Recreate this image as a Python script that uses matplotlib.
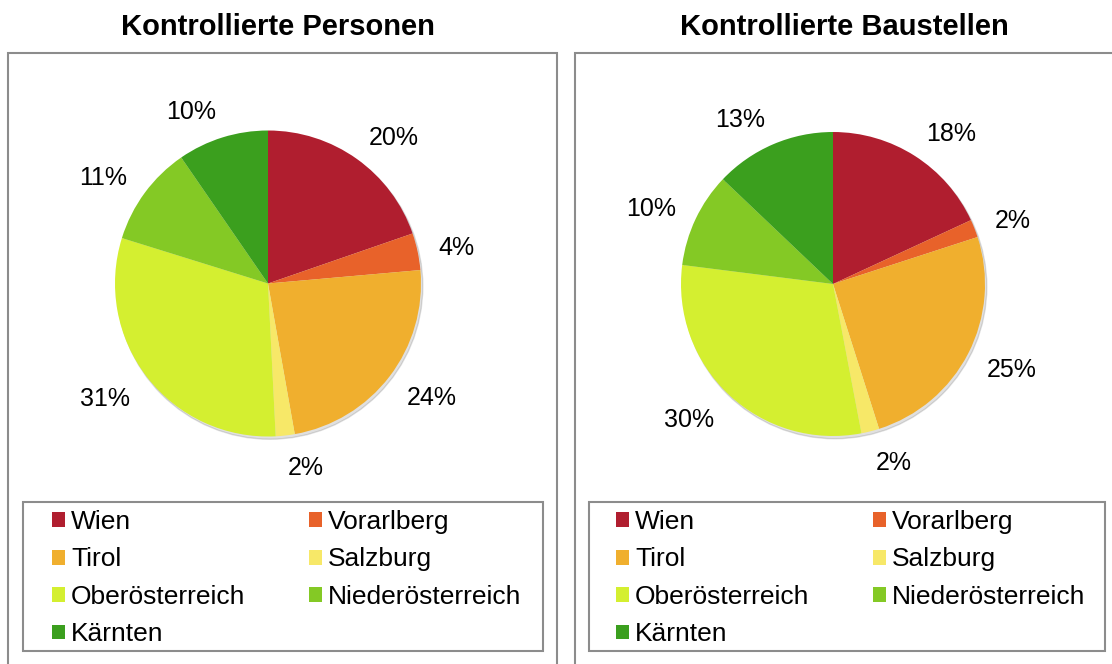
import matplotlib
matplotlib.use('Agg')
import numpy as np
import matplotlib.pyplot as plt
from matplotlib.patches import Rectangle, Patch, Circle

plt.rcParams['font.family'] = ['Liberation Sans', 'DejaVu Sans']

regions = ["Wien", "Vorarlberg", "Tirol", "Salzburg",
           "Oberösterreich", "Niederösterreich", "Kärnten"]
colors = ["#B01E2F", "#E8622A", "#F0AF2E", "#F7E868",
          "#D4EF30", "#84C925", "#3B9F1E"]

# shares in percent
personen = [19.7, 3.9, 23.6, 2.0, 30.6, 10.6, 9.6]
baustellen = [18.1, 1.9, 25.1, 1.9, 30.0, 10.1, 12.9]

titles = ["Kontrollierte Personen", "Kontrollierte Baustellen"]

W, H = 1112, 664
fig = plt.figure(figsize=(W / 100, H / 100), dpi=100)

def fx(px):
    return px / W

def fy(py):
    return (H - py) / H

# panel layout in pixels (from top-left)
panels = [
    dict(box=(8, 53, 557), cx=268, cy=283.5, r=153, title_x=278,
         leg=(23, 502, 543, 651), hx=52),
    dict(box=(575, 53, 1125), cx=833, cy=284, r=152, title_x=844,
         leg=(589, 502, 1105, 651), hx=616),
]

for data, title, p in zip([personen, baustellen], titles, panels):
    x0, y0, x1 = p['box']
    fig.patches.append(Rectangle((fx(x0), fy(H + 20)), fx(x1 - x0), (H + 20 - y0) / H,
                                 transform=fig.transFigure, fill=False,
                                 edgecolor='#8c8c8c', linewidth=1.5))
    fig.text(fx(p['title_x']), fy(35), title, ha='center', va='baseline',
             fontsize=21, fontweight='bold')

    half = 215
    ax = fig.add_axes([fx(p['cx'] - half), fy(p['cy'] + half),
                       fx(2 * half), 2 * half / H])
    ax.add_patch(Circle((0.012, -0.018), 1.0, color='black', alpha=0.12, zorder=0))
    wedges, _ = ax.pie(data, colors=colors, startangle=90, counterclock=False,
                       wedgeprops=dict(linewidth=0))
    # labels just outside the pie, pushed away by half their size
    for w, v in zip(wedges, data):
        a = np.deg2rad((w.theta1 + w.theta2) / 2)
        x, y = np.cos(a), np.sin(a)
        ax.annotate(f"{v:.0f}%", xy=(1.14 * x, 1.14 * y), xytext=(0, 6.1 * y - 2.2),
                    textcoords='offset points', fontsize=18,
                    ha='left' if x > 0 else 'right', va='center')
    lim = half / p['r']
    ax.set_xlim(-lim, lim)
    ax.set_ylim(-lim, lim)
    ax.set_aspect('equal')
    ax.axis('off')

    lx0, ly0, lx1, ly1 = p['leg']
    fig.patches.append(Rectangle((fx(lx0), fy(ly1)), fx(lx1 - lx0), (ly1 - ly0) / H,
                                 transform=fig.transFigure, fill=False,
                                 edgecolor='#8c8c8c', linewidth=1.5))
    handles = [Patch(facecolor=c, edgecolor='none', label=n) for n, c in zip(regions, colors)]
    order = [0, 2, 4, 6, 1, 3, 5]
    fig.legend([handles[i] for i in order], [regions[i] for i in order],
               loc='upper left', bbox_to_anchor=(fx(p['hx']), fy(510)),
               ncols=2, frameon=False, fontsize=19, borderpad=0,
               borderaxespad=0, handlelength=0.49, handleheight=0.49,
               handletextpad=0.23, columnspacing=2.42, labelspacing=0.51)

fig.savefig('out.png', dpi=100)
